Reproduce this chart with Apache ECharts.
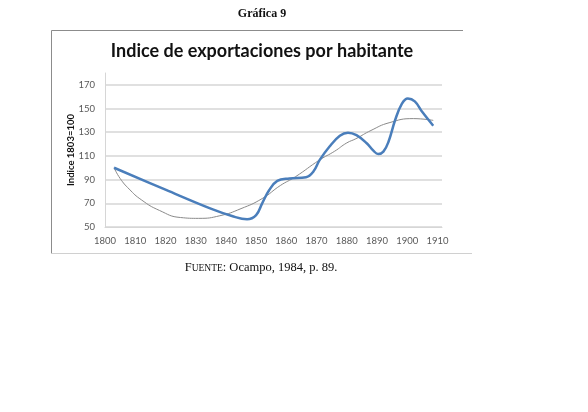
<!DOCTYPE html>
<html>
<head>
<meta charset="utf-8">
<script src="https://cdn.jsdelivr.net/npm/echarts@6/dist/echarts.min.js"></script>
<style>
html,body{margin:0;padding:0;background:#fff;}
#c{width:588px;height:412px;}
</style>
</head>
<body>
<div id="c"></div>
<script>
// Blue series: export index per inhabitant (1803 = 100)
var blueYears  = [1803, 1820, 1835, 1842, 1847, 1850, 1852, 1854.3, 1857, 1861, 1866.5, 1869, 1871, 1874.3, 1877.7, 1880.4, 1883.2, 1886.6, 1888.8, 1890.4, 1892.1, 1893.8, 1896, 1898.2, 1900.2, 1902.5, 1905, 1908.6];
var blueValues = [100, 81.5, 65.5, 59.3, 56.5, 60, 70, 81, 89, 91, 92, 97, 106.5, 118, 127, 129.6, 127.5, 120.7, 114.4, 111.6, 113.6, 122, 140.3, 154, 158.5, 156, 147, 135.5];
// Gray trend line
var trendYears  = [1803, 1805, 1808, 1812, 1818, 1825, 1831, 1838, 1845, 1852, 1858, 1863, 1871, 1876, 1880, 1883, 1888, 1894, 1902, 1908.6];
var trendValues = [100, 91, 82, 73, 64, 58, 57.3, 59.5, 65.5, 74, 85, 92.4, 106.6, 114, 121, 124.5, 131.5, 138, 141.5, 140];
// Axis ticks
var xTicks = [1800, 1810, 1820, 1830, 1840, 1850, 1860, 1870, 1880, 1890, 1900, 1910];
var yTicks = [50, 70, 90, 110, 130, 150, 170];
// Texts
var caption = 'Gráfica 9';
var chartTitle = 'Indice de exportaciones por habitante';
var yName = 'Indice 1803=100';

function pairs(xs, ys){ return xs.map(function(x,i){ return [x, ys[i]]; }); }

var chart = echarts.init(document.getElementById('c'), null, {renderer:'canvas'});
var gridCol = '#d6d6d6';
var option = {
  backgroundColor: '#ffffff',
  animation: false,
  grid: {left: 105, right: 146, top: 73, bottom: 185, containLabel: false},
  xAxis: {
    type: 'value', min: xTicks[0], max: 1911.5, interval: 10,
    axisLine: {show: true, lineStyle: {color: gridCol, width: 1}},
    axisTick: {show: false},
    splitLine: {show: false},
    axisLabel: {color: '#595959', fontFamily: 'Lato', fontSize: 9.5, margin: 9,
      showMaxLabel: false,
      formatter: function(v){ return xTicks.indexOf(v) >= 0 ? String(v) : ''; }}
  },
  yAxis: {
    type: 'value', min: yTicks[0], max: 180, interval: 20,
    name: yName, nameLocation: 'middle', nameGap: 29, nameRotate: 90, nameMoveOverlap: false,
    nameTextStyle: {fontFamily: 'Lato', fontWeight: 'bold', fontSize: 9.5, color: '#111'},
    axisLine: {show: true, lineStyle: {color: gridCol, width: 1}},
    axisTick: {show: false},
    splitLine: {show: true, showMaxLine: false, lineStyle: {color: gridCol, width: 1.5}},
    axisLabel: {color: '#595959', fontFamily: 'Lato', fontSize: 9.5, margin: 10,
      showMaxLabel: false,
      formatter: function(v){ return yTicks.indexOf(v) >= 0 ? String(v) : ''; }}
  },
  series: [
    {type: 'line', name: 'tendencia', data: pairs(trendYears, trendValues), smooth: 0.5,
     showSymbol: false, lineStyle: {color: '#8a8a8a', width: 1}, z: 2},
    {type: 'line', name: 'índice', data: pairs(blueYears, blueValues), smooth: 0.4,
     showSymbol: false, lineStyle: {color: '#4a7ebb', width: 2.5}, z: 3}
  ],
  graphic: [
    {type: 'line', shape: {x1: 51.5, y1: 30.5, x2: 463, y2: 30.5}, style: {stroke: '#8c8c8c', lineWidth: 1}},
    {type: 'line', shape: {x1: 51.5, y1: 30.5, x2: 51.5, y2: 253.5}, style: {stroke: '#8c8c8c', lineWidth: 1}},
    {type: 'line', shape: {x1: 51.5, y1: 253.5, x2: 472, y2: 253.5}, style: {stroke: '#d0d0d0', lineWidth: 1}},
    {type: 'text', x: 262, y: 14, style: {text: caption, align: 'center', verticalAlign: 'middle',
      font: 'bold 12px "Liberation Serif"', fill: '#111'}},
    {type: 'text', x: 262, y: 51, style: {text: chartTitle, align: 'center', verticalAlign: 'middle',
      font: 'bold 18px Lato', fill: '#111'}},
    {type: 'text', x: 261, y: 268, style: {
      text: '{a|F}{b|UENTE}{a|: Ocampo, 1984, p. 89.}', align: 'center', verticalAlign: 'middle',
      rich: {
        a: {fontFamily: 'Liberation Serif', fontSize: 12.5, fontWeight: 'normal', fill: '#111'},
        b: {fontFamily: 'Liberation Serif', fontSize: 9.5, fontWeight: 'normal', fill: '#111'}
      }}}
  ]
};
chart.setOption(option);
</script>
</body>
</html>
